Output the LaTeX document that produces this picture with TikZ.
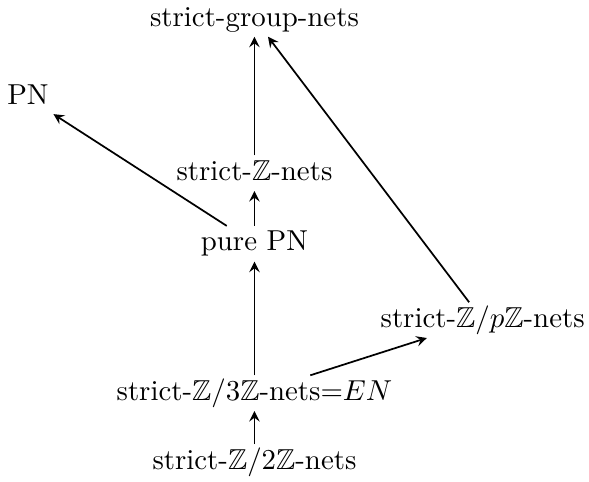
\documentclass[tikz,border=0pt]{standalone}
\usepackage{amsmath, amssymb}
\usepackage{tikz}
\usetikzlibrary{positioning}

\begin{document}
\begin{tikzpicture}[
  on grid,
  net/.style={inner sep=1.5pt, text height=7pt, text depth=2pt},
  ar/.style={->, >=stealth, semithick}
]
  \node[net] (tz) {strict-$\mathbb{Z}/3\mathbb{Z}$-nets$=$$EN$};
  \node[net, below=0.84cm of tz] (tw) {strict-$\mathbb{Z}/2\mathbb{Z}$-nets};
  \node[net, above=1.82cm of tz] (pure) {pure PN};
  \node[net, above=0.86cm of pure] (zn) {strict-$\mathbb{Z}$-nets};
  \node[net, above=1.88cm of zn] (grp) {strict-group-nets};
  \node[net, above left=0.92cm and 2.76cm of zn] (pn) {PN};
  \node[net, above right=0.89cm and 2.78cm of tz] (pz) {strict-$\mathbb{Z}/p\mathbb{Z}$-nets};
  \draw[ar] (tw) -- (tz);
  \draw[ar] (tz) -- (pure);
  \draw[ar] (tz) -- (pz);
  \draw[ar] (pure) -- (zn);
  \draw[ar] (pure) -- (pn);
  \draw[ar] (zn) -- (grp);
  \draw[ar] (pz) -- (grp);
  \useasboundingbox (-3.10,-1.08) rectangle (4.03,4.79);
\end{tikzpicture}
\end{document}
